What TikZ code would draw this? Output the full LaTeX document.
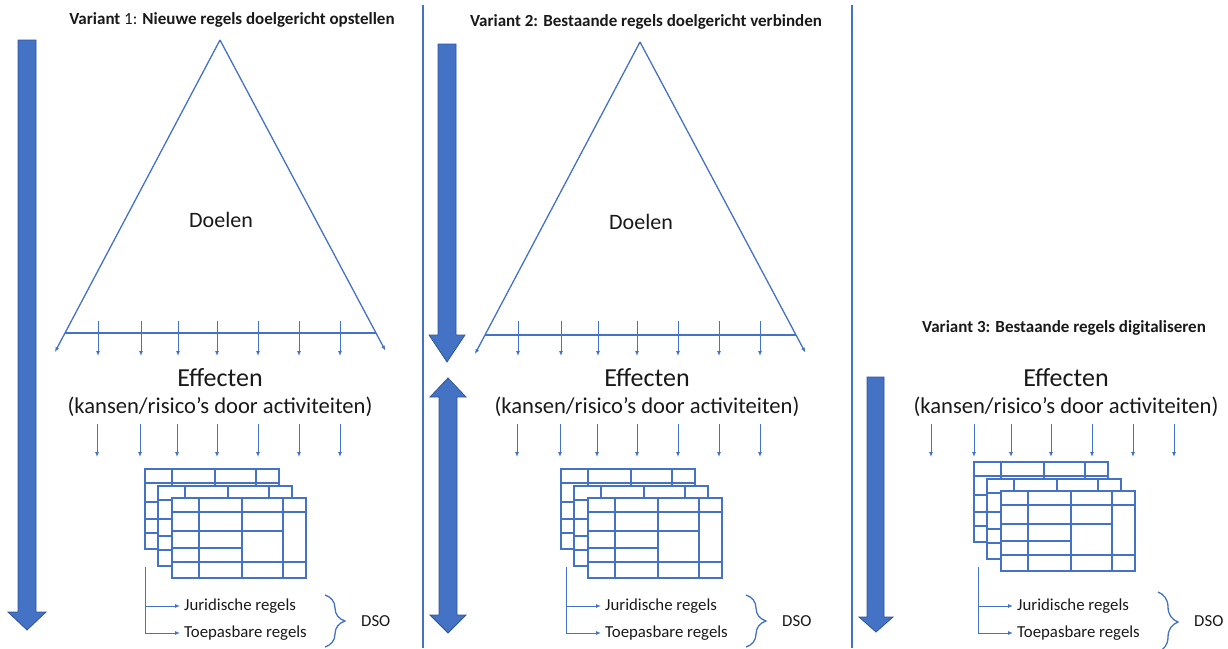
\documentclass[tikz,border=0pt]{standalone}
\usepackage{fontspec}
\setmainfont{Carlito}
\usepackage{tikz}
\usetikzlibrary{arrows.meta,positioning,calc,decorations.pathreplacing}
\definecolor{office}{RGB}{68,114,196}
\definecolor{officedark}{RGB}{47,85,151}
\definecolor{ink}{RGB}{25,25,25}

% stack of three rule sheets, back sheet at (#1,#2)
\newcommand{\sheetstack}[2]{%
  \foreach \dx/\dy in {0/0,13/17,27/29}{
    \begin{scope}[shift={(#1+\dx,#2+\dy)}]
      \filldraw[sheet] (0,0) rectangle (134,80);
      \draw[sheet] (27,0) -- (27,80) (70,0) -- (70,80) (111,0) -- (111,80);
      \draw[sheet] (0,14) -- (134,14) (0,64) -- (134,64) (0,33) -- (111,33) (0,50) -- (70,50);
    \end{scope}}}

\begin{document}
\begin{tikzpicture}[x=1pt,y=-1pt,
  every node/.style={text=ink,inner sep=3pt},
  titletext/.style={font=\bfseries\fontsize{17}{19}\selectfont},
  big/.style={font=\fontsize{22}{26}\selectfont},
  effect/.style={font=\fontsize{26}{30}\selectfont},
  sub/.style={font=\fontsize{22.6}{26}\selectfont},
  rule/.style={font=\fontsize{16.8}{19}\selectfont,inner sep=4pt},
  edge/.style={draw=office,line width=1.3pt},
  tick/.style={draw=office,line width=1pt,-{Latex[length=5pt,width=4pt]}},
  link/.style={draw=office,line width=1pt,-{Latex[length=5pt,width=4pt]}},
  sheet/.style={draw=office,fill=white,line width=1.3pt},
  curly/.style={draw=office,line width=1.3pt,decorate,decoration={brace,amplitude=20pt,aspect=0.5}},
  bigarrow/.style={fill=office,draw=officedark,line width=0.8pt},
  divider/.style={draw=office,line width=1.2pt}]
  \useasboundingbox (0,0) rectangle (1228,648);

  % panel dividers
  \draw[divider] (423,5) -- (423,648);
  \draw[divider] (852,5) -- (852,648);

  % titles
  \node[titletext] (title1) at (232,20) {Variant \mdseries 1: \bfseries Nieuwe regels doelgericht opstellen};
  \node[titletext] (title2) at (646,22) {Variant 2: Bestaande regels doelgericht verbinden};
  \node[titletext] (title3) at (1064,328) {Variant 3: Bestaande regels digitaliseren};

  % big arrows
  \filldraw[bigarrow] (18,40) -- (36,40) -- (36,612) -- (46,612) -- (27,630) -- (8,612) -- (18,612) -- cycle;
  \filldraw[bigarrow] (438,44) -- (456,44) -- (456,335) -- (465,335) -- (447,362) -- (429,335) -- (438,335) -- cycle;
  \filldraw[bigarrow] (448,378) -- (466,397) -- (457,397) -- (457,615) -- (466,615) -- (448,633)
    -- (430,615) -- (439,615) -- (439,397) -- (430,397) -- cycle;
  \filldraw[bigarrow] (867,377) -- (884,377) -- (884,617) -- (893,617) -- (876,632) -- (859,617) -- (867,617) -- cycle;

  % goal triangles
  \foreach \p/\dx/\dy in {1/0/0,2/420/2}{
    \coordinate (apex\p) at (220+\dx,40+\dy);
    \coordinate (bl\p) at (65+\dx,333+\dy);
    \coordinate (br\p) at (376+\dx,333+\dy);
    \draw[edge] (bl\p) -- (br\p);
    \draw[edge,-{Latex[length=5pt,width=4pt]}] (apex\p) -- ($(apex\p)!1.065!(bl\p)$);
    \draw[edge,-{Latex[length=5pt,width=4pt]}] (apex\p) -- ($(apex\p)!1.06!(br\p)$);
    \node[big] (doel\p) at (221+\dx,220+\dy) {Doelen};
    \foreach \x in {98,141,178,217,258,299,340}
      \draw[tick] (\x+\dx,321) -- (\x+\dx,356);
  }

  % effects
  \foreach \p/\cx/\dx in {1/220/0,2/647/420,3/1066/834}{
    \node[effect] (eff\p) at (\cx,378) {Effecten};
    \node[sub] (kans\p) at (\cx,407) {(kansen/risico’s door activiteiten)};
    \foreach \x in {97,140,177,217,258,299,340}
      \draw[tick] (\x+\dx,424) -- (\x+\dx,457);
  }

  % rule sheets
  \sheetstack{145}{469}
  \sheetstack{561}{469}
  \sheetstack{974}{462}

  % rules and DSO
  \foreach \p/\dx/\bt/\bb in {1/0/595/647,2/421/595/647,3/833/592/652}{
    \coordinate (fork\p) at (145+\dx,567);
    \node[rule,anchor=west] (jur\p) at (180+\dx,606) {Juridische regels};
    \node[rule,anchor=west] (toe\p) at (180+\dx,633) {Toepasbare regels};
    \draw[link] (fork\p) |- (jur\p.west);
    \draw[link] (fork\p) |- (toe\p.west);
    \draw[curly] (325+\dx,\bt) -- (325+\dx,\bb);
    \node[rule,anchor=west] (dso\p) at (357+\dx,621) {DSO};
  }
\end{tikzpicture}
\end{document}
